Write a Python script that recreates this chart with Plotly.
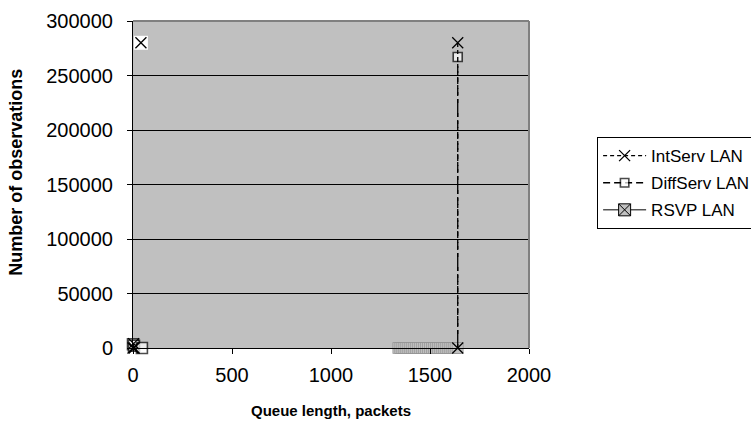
import plotly.graph_objects as go

# Data
intserv_x = [0, 3, 6, None, 1640, 1640]
intserv_y = [0, 4000, 0, None, 0, 280000]

diffserv_x = [0, 5, 45, None, 1640]
diffserv_y = [3500, 2000, 0, None, 267000]

rsvp_top_x = [40]
rsvp_top_y = [280000]

rsvp_x = [1340, 1350, 1360, 1370, 1380, 1390, 1400, 1410, 1420, 1430, 1440,
          1450, 1460, 1470, 1480, 1490, 1500, 1510, 1520, 1530, 1540, 1550,
          1560, 1570, 1580, 1590, 1600, 1610, 1620, 1630, 1640]
rsvp_y = [0] * len(rsvp_x)

x_ticks = [0, 500, 1000, 1500, 2000]
y_ticks = [0, 50000, 100000, 150000, 200000, 250000, 300000]

FONT = "Liberation Sans, Arial, sans-serif"

fig = go.Figure()

# RSVP strip at the bottom
fig.add_trace(go.Scatter(
    x=rsvp_x, y=rsvp_y, mode="markers", showlegend=False,
    marker=dict(symbol="square", size=11, color="#C0C0C0",
                line=dict(color="#8a8a8a", width=0.6)),
    cliponaxis=False,
))
# RSVP isolated top-left point (white box with a cross)
fig.add_trace(go.Scatter(
    x=rsvp_top_x, y=rsvp_top_y, mode="markers", showlegend=False,
    marker=dict(symbol="square", size=14, color="white", line=dict(width=0)),
    cliponaxis=False,
))
fig.add_trace(go.Scatter(
    x=rsvp_top_x, y=rsvp_top_y, mode="markers", showlegend=False,
    marker=dict(symbol="x-thin-open", size=11, color="black",
                line=dict(color="black", width=1.3)),
    cliponaxis=False,
))

# DiffServ: vertical part (from ~0 up to the top square)
fig.add_trace(go.Scatter(
    x=[diffserv_x[-1], diffserv_x[-1]], y=[0, diffserv_y[-1]], mode="lines",
    showlegend=False, line=dict(color="black", width=1.3, dash="7px,4px"),
    hoverinfo="skip",
))
sizes_d = [11, 11, 11, 0, 9]
fig.add_trace(go.Scatter(
    x=diffserv_x, y=diffserv_y, mode="lines+markers", name="DiffServ LAN",
    legendgroup="b", legendrank=2, connectgaps=False,
    line=dict(color="black", width=1.3, dash="7px,4px"),
    marker=dict(symbol="square", size=sizes_d, color="white",
                line=dict(color="black", width=1.6)),
    cliponaxis=False,
))
fig.add_trace(go.Scatter(
    x=intserv_x, y=intserv_y, mode="lines+markers", name="IntServ LAN",
    legendgroup="a", legendrank=1, connectgaps=False,
    line=dict(color="black", width=1.3, dash="4px,3px"),
    marker=dict(symbol="x-thin-open", size=11, color="black",
                line=dict(color="black", width=1.3)),
    cliponaxis=False,
))
# Legend entry for RSVP
fig.add_trace(go.Scatter(
    x=[None], y=[None], mode="lines+markers", name="RSVP LAN",
    legendgroup="c", legendrank=3,
    line=dict(color="black", width=1),
    marker=dict(symbol="square-x", size=12, color="#C0C0C0",
                line=dict(color="black", width=1)),
))

fig.update_layout(
    width=751, height=430,
    margin=dict(l=133, r=222, t=21, b=82, autoexpand=False),
    paper_bgcolor="white", plot_bgcolor="#C0C0C0",
    font=dict(family=FONT, color="black"),
    legend=dict(x=1.172, y=0.645, xanchor="left", yanchor="top",
                bgcolor="white", bordercolor="black", borderwidth=1,
                font=dict(size=17, family=FONT), itemwidth=43,
                tracegroupgap=2, traceorder="grouped"),
    annotations=[dict(
        text="<b>Number of observations</b>", textangle=-90,
        xref="paper", yref="paper", x=-0.296, y=0.538,
        xanchor="center", yanchor="middle", showarrow=False,
        font=dict(size=18, family=FONT),
    )],
)
fig.update_xaxes(
    range=[0, 2000], tickvals=x_ticks, showgrid=False, zeroline=False,
    showline=True, linecolor="black", linewidth=1.2,
    ticks="outside", ticklen=5, tickcolor="black",
    tickfont=dict(size=20), ticklabelstandoff=4,
    title=dict(text="<b>Queue length, packets</b>", font=dict(size=15), standoff=20),
)
fig.update_yaxes(
    range=[0, 300000], tickvals=y_ticks, tickformat="d", showgrid=True,
    gridcolor="black", gridwidth=1, zeroline=False,
    showline=True, linecolor="black", linewidth=1,
    ticks="outside", ticklen=5, tickcolor="black",
    tickfont=dict(size=20), ticklabelstandoff=10,
)
# Gray top/right plot border
fig.add_shape(type="line", xref="x domain", yref="y domain", x0=0, x1=1, y0=1, y1=1,
              line=dict(color="#808080", width=2))
fig.add_shape(type="line", xref="x domain", yref="y domain", x0=1, x1=1, y0=0, y1=1,
              line=dict(color="#808080", width=2))

fig.write_html("out.html")
